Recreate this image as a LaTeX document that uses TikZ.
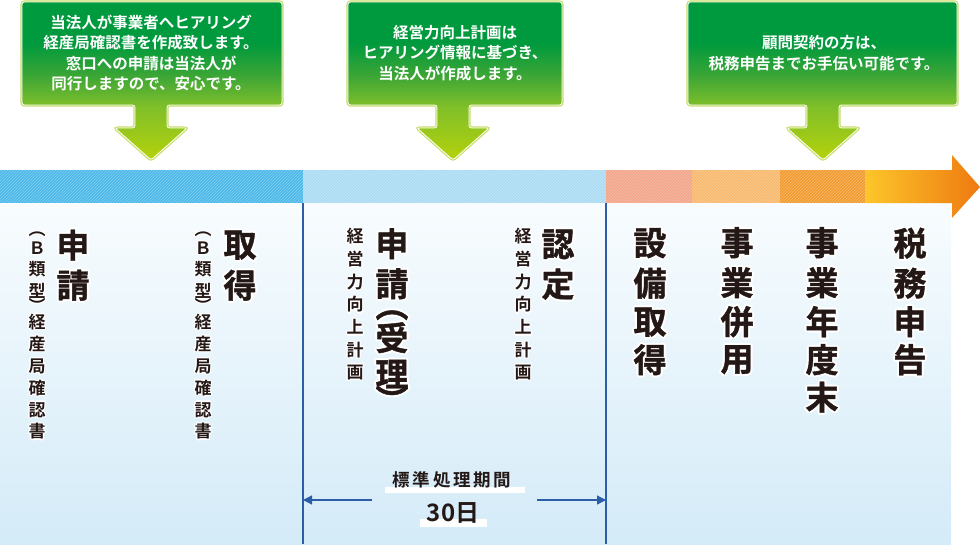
\documentclass[tikz,border=0pt]{standalone}
\usepackage{fontspec}
\setmainfont{Noto Sans CJK JP}[BoldFont=* Bold]
\newfontfamily\jph{Noto Sans CJK JP}[BoldFont=* Bold, BoldFeatures={FakeBold=1.2}]
\usetikzlibrary{patterns,arrows.meta}

\definecolor{cgTop}{HTML}{009A3E}
\definecolor{cgMid}{HTML}{3AA536}
\definecolor{cgLow}{HTML}{7FBF2A}
\definecolor{cgTip}{HTML}{B5D20A}
\definecolor{cEdge}{HTML}{C8DE6A}
\definecolor{bBlue}{HTML}{4CB9E9}
\definecolor{bLight}{HTML}{A9DCF3}
\definecolor{bSalmon}{HTML}{F2A48A}
\definecolor{bLOrange}{HTML}{F8B96C}
\definecolor{bOrange}{HTML}{F29B30}
\definecolor{bYellow}{HTML}{FCC62B}
\definecolor{bTip}{HTML}{EE7A10}
\definecolor{pTop}{HTML}{F8FCFE}
\definecolor{pBot}{HTML}{D4EBF8}
\definecolor{lineBlue}{HTML}{2B5EA7}
\definecolor{ink}{HTML}{231815}

\pgfdeclareverticalshading{calloutshade}{100bp}{color(0bp)=(cgTip); color(25bp)=(cgTip); color(42bp)=(cgLow); color(52bp)=(cgMid); color(62bp)=(cgTop); color(100bp)=(cgTop)}

% vertical column: list of  distance/character, each character centred on its point
\newcommand\vcol[1]{\vbox{\offinterlineskip\foreach \dd/\cc in {#1}{\vskip\dd pt\vbox to 0pt{\vss\hbox to 0pt{\hss\cc\hss}\vss}}}}
% white halo behind a column
\newsavebox\hbw \newsavebox\hbk
\newcommand\halo[2]{{\sbox\hbw{\color{white}\vcol{#2}}\sbox\hbk{\color{ink}\vcol{#2}}%
  \foreach \a in {0,30,...,330}{\pgfmathsetlengthmacro\hx{#1*cos(\a)}\pgfmathsetlengthmacro\hy{#1*sin(\a)}\rlap{\kern\hx\raise\hy\copy\hbw}}%
  \usebox\hbk}}

\begin{document}
\begin{tikzpicture}[x=1pt,y=-1pt,
  calloutshape/.style n args={3}{insert path={(#1,2) -- (#2,2) -- (#2,105) -- ({#3+16},105) -- ({#3+16},128) -- ({#3+36},128) -- (#3,160) -- ({#3-36},128) -- ({#3-16},128) -- ({#3-16},105) -- (#1,105) -- cycle}},
  ctext/.style={text=white, inner sep=0pt, align=center, font=\bfseries\fontsize{15.5}{20.3}\selectfont},
  vbig/.style={anchor=north, inner sep=0pt, text=ink, font=\jph\bfseries\fontsize{33}{40}\selectfont},
  vsmall/.style={anchor=north, inner sep=0pt, text=ink, font=\bfseries\fontsize{17}{22}\selectfont},
  divider/.style={lineBlue, line width=1.6pt},
  span/.style={lineBlue, line width=1.3pt, -{Triangle[length=9pt,width=9pt]}},
  band/.style={pattern=north east lines, pattern color=white, opacity=0.3}
]
\fill[white] (0,0) rectangle (980,544);
\useasboundingbox (0,0) rectangle (980,544);

% lower panel
\shade[top color=pTop, bottom color=pBot] (0,203) rectangle (951,544);

% time band
\fill[bBlue] (0,170) rectangle (303,203);
\fill[bLight] (303,170) rectangle (606,203);
\fill[bSalmon] (606,170) rectangle (692,203);
\fill[bLOrange] (692,170) rectangle (780,203);
\fill[bOrange] (780,170) rectangle (865,203);
\fill[band] (0,170) rectangle (865,203);
\shade[left color=bYellow, right color=bTip] (865,170) -- (952,170) -- (952,155) -- (980,187) -- (952,218) -- (952,203) -- (865,203) -- cycle;

% dividers
\coordinate (d1t) at (303,203); \coordinate (d1b) at (303,544);
\coordinate (d2t) at (606,203); \coordinate (d2b) at (606,544);
\draw[divider] (d1t) -- (d1b);
\draw[divider] (d2t) -- (d2b);

% callouts
\foreach \l/\r/\c in {22/282/151, 348/562/453, 688/957/823}{
  \draw[cEdge, line width=3.2pt, rounded corners=2.5pt, calloutshape={\l}{\r}{\c}];
  \shade[shading=calloutshade, rounded corners=2.5pt, calloutshape={\l}{\r}{\c}];
  \draw[white, line width=0.8pt, rounded corners=2.5pt, calloutshape={\l}{\r}{\c}];
}
\node[ctext] (t1) at (151,53) {当法人が事業者へヒアリング\\経産局確認書を作成致します。\\窓口への申請は当法人が\\同行しますので、安心です。};
\node[ctext] (t2) at (455,53) {経営力向上計画は\\ヒアリング情報に基づき、\\当法人が作成します。};
\node[ctext] (t3) at (824,53) {顧問契約の方は、\\税務申告までお手伝い可能です。};

% columns, section 1
\node[vsmall] (s1) at (37,233) {\halo{1.2pt}{0/︵,13.5/Ｂ,21/類,22/型,14.5/︶,16.5/経,22/産,22.5/局,21.5/確,22/認,21.5/書}};
\node[vbig] (h1) at (73,243) {\halo{2pt}{0/申,40/請}};
\node[vsmall] (s2) at (203,233) {\halo{1.2pt}{0/︵,13.5/Ｂ,21/類,22/型,14.5/︶,16.5/経,22/産,22.5/局,21.5/確,22/認,21.5/書}};
\node[vbig] (h2) at (240,243) {\halo{2pt}{0/取,40/得}};

% section 2
\node[vsmall] (s3) at (355,235) {\halo{1.2pt}{0/経,22.7/営,22.7/力,22.7/向,22.7/上,22.7/計,22.7/画}};
\node[vbig] (h3) at (392,241.5) {\halo{2pt}{0/申,40/請,31.5/︵,22.5/受,36.5/理,25/︶}};
\node[vsmall] (s4) at (523,235) {\halo{1.2pt}{0/経,22.7/営,22.7/力,22.7/向,22.7/上,22.7/計,22.7/画}};
\node[vbig] (h4) at (558,242) {\halo{2pt}{0/認,40/定}};

% section 3
\node[vbig] (h5) at (650,241) {\halo{2pt}{0/設,40/備,39/取,37.5/得}};
\node[vbig] (h6) at (737,240.5) {\halo{2pt}{0/事,40/業,39/併,38/用}};
\node[vbig] (h7) at (822,240.5) {\halo{2pt}{0/事,40/業,39/年,38/度,37.5/末}};
\node[vbig] (h8) at (910,241) {\halo{2pt}{0/税,40/務,38.5/申,38/告}};

% standard period
\fill[white] (385,487) rectangle (525,493);
\fill[white] (420,519) rectangle (487,527);
\node[anchor=base, inner sep=0pt, text=ink, font=\bfseries\fontsize{17.5}{20}\selectfont\addfontfeatures{LetterSpace=16}] (p1) at (452,486) {標準処理期間};
\node[anchor=base, inner sep=0pt, text=ink, font=\bfseries\fontsize{24}{26}\selectfont] (p2) at (453,521.5) {30日};
\coordinate (a1) at (372,500); \coordinate (e1) at (303,500);
\coordinate (a2) at (537,500); \coordinate (e2) at (606,500);
\draw[span] (a1) -- (e1);
\draw[span] (a2) -- (e2);
\end{tikzpicture}
\end{document}
